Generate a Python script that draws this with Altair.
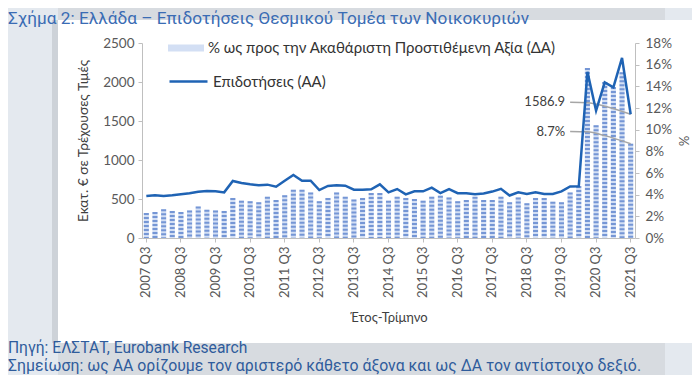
import altair as alt
import pandas as pd

# ---- data ----
quarters = []
yy, qq = 2007, 3
for _ in range(57):
    quarters.append(f"{yy} Q{qq}")
    qq += 1
    if qq > 4:
        qq = 1
        yy += 1

subsidies = [538, 547, 538, 547, 560, 573, 594, 603, 598, 585,
             731, 705, 688, 675, 684, 658, 735, 808, 735, 735,
             615, 667, 675, 671, 620, 620, 624, 688, 585, 628,
             560, 598, 598, 645, 575, 626, 575, 573, 560, 570,
             595, 630, 545, 585, 564, 585, 564, 565, 598, 660,
             662, 2130, 1632, 1996, 1932, 2308, 1586.9]

share_pct = [2.3, 2.4, 2.65, 2.5, 2.4, 2.55, 2.9, 2.6, 2.55, 2.5,
             3.7, 3.45, 3.4, 3.3, 3.8, 3.5, 3.95, 4.45, 4.45, 4.2,
             3.4, 3.7, 4.2, 3.8, 3.55, 3.7, 4.15, 4.15, 3.45, 3.8,
             3.7, 3.6, 3.45, 3.8, 3.9, 3.75, 3.4, 3.5, 3.8, 3.5,
             3.5, 3.8, 3.3, 3.75, 3.2, 3.7, 3.7, 3.35, 3.3, 4.2,
             4.8, 15.7, 10.4, 14.4, 13.95, 15.3, 8.7]

tick_quarters = [q for q in quarters if q.endswith("Q3")]
left_ticks = [0, 500, 1000, 1500, 2000, 2500]
right_ticks = [0, 2, 4, 6, 8, 10, 12, 14, 16, 18]

lead1_q = ["2019 Q4", "2020 Q2", "2020 Q4", "2021 Q3"]
lead1_v = [1740, 1735, 1690, 1586.9]
lead2_q = ["2019 Q4", "2020 Q2", "2020 Q4", "2021 Q3"]
lead2_v = [9.83, 9.8, 9.45, 8.7]

bar_label = "% ως προς την Ακαθάριστη Προστιθέμενη Αξία (ΔΑ)"
line_label = "Επιδοτήσεις (ΑΑ)"
title_text = "Σχήμα 2: Ελλάδα – Επιδοτήσεις Θεσμικού Τομέα των Νοικοκυριών"
source_text = "Πηγή: ΕΛΣΤΑΤ, Eurobank Research"
note_text = "Σημείωση: ως ΑΑ ορίζουμε τον αριστερό κάθετο άξονα και ως ΔΑ τον αντίστοιχο δεξιό."

df = pd.DataFrame({"q": quarters, "sub": subsidies, "pct": share_pct})
df["bar_series"] = bar_label
df["line_series"] = line_label
lead1 = pd.DataFrame({"q": lead1_q, "sub": lead1_v})
lead2 = pd.DataFrame({"q": lead2_q, "pct": lead2_v})

FONT = "Lato"
AX_COL = "#595959"
LINE_COL = "#1f63b4"
GRAY_BAND = "#d7dbe0"
LIGHT_BAND = "#e4e9ef"

# shared encodings (identical in every layer so the axes merge cleanly)
x_enc = alt.X("q:N", sort=quarters,
              scale=alt.Scale(domain=quarters, paddingInner=0.4, paddingOuter=0.2),
              axis=alt.Axis(values=tick_quarters, labelAngle=-90, title="Έτος-Τρίμηνο",
                            labelFont=FONT, labelFontSize=13, labelColor=AX_COL,
                            labelPadding=4, tickSize=4, tickColor="#bfbfbf",
                            domainColor="#bfbfbf", titleFont=FONT, titleFontSize=13,
                            titleFontWeight="normal", titleColor="#404040", titlePadding=14,
                            zindex=1))

y_right = alt.Y("pct:Q", scale=alt.Scale(domain=[0, 18]),
                axis=alt.Axis(orient="right", values=right_ticks,
                              labelExpr="datum.value + '%'", grid=False, title="%",
                              labelFont=FONT, labelFontSize=13.5, labelColor=AX_COL,
                              tickSize=4, tickColor="#bfbfbf", domainColor="#bfbfbf",
                              labelPadding=6, titleFont=FONT, titleFontSize=13,
                              titleFontWeight="normal", titleColor=AX_COL,
                              titlePadding=4, zindex=1))

y_left = alt.Y("sub:Q", scale=alt.Scale(domain=[0, 2500]),
               axis=alt.Axis(orient="left", values=left_ticks, format="d", grid=False,
                             title="Εκατ. € σε Τρέχουσες Τιμές", labelFont=FONT,
                             labelFontSize=13.5, labelColor=AX_COL, tickSize=4,
                             tickColor="#bfbfbf", domainColor="#bfbfbf", labelPadding=4,
                             titleFont=FONT, titleFontSize=13.8, titleFontWeight="normal",
                             titleColor="#404040", titlePadding=12, zindex=1))

one = alt.Data(values=[{}])

# ---- decorative page bands (kept clear of the axes) ----
def band(x1, x2, y1, y2, col):
    return alt.Chart(one).mark_rect(color=col).encode(
        x=alt.value(x1), x2=alt.value(x2), y=alt.value(y1), y2=alt.value(y2))

decor = [
    band(-134, -84, -35, 332, LIGHT_BAND),
    band(-90, -84, -23, 300, "#cdd2d8"),
    band(-84, 523, -35, -23, GRAY_BAND),
    band(523, 550, -35, -23, LIGHT_BAND),
    band(-84, 523, 300, 332, GRAY_BAND),
    band(523, 550, 300, 332, LIGHT_BAND),
]

def label(txt, x, y, size, col, font="Roboto"):
    return alt.Chart(one).mark_text(text=txt, align="left", baseline="middle",
                                    font=font, fontSize=size, color=col).encode(
        x=alt.value(x), y=alt.value(y))

texts = [
    label(title_text, -134, -24, 17.2, "#3a6cb4"),
    label(source_text, -134, 305, 15.6, "#2f5c9c"),
    label(note_text, -134, 323, 15.8, "#2f5c9c"),
]

# ---- right-axis group (bars) ----
bar_fill = alt.Chart(df).mark_bar().encode(
    x=x_enc,
    y=y_right,
    fill=alt.Fill("bar_series:N",
                  scale=alt.Scale(range=["#d3dff4"]),
                  legend=alt.Legend(orient="none", legendX=26, legendY=-13, title=None,
                                    symbolType="M-1,-0.2L1,-0.2L1,0.2L-1,0.2Z",
                                    symbolSize=1296, symbolStrokeWidth=0,
                                    symbolFillColor="#a9bfe8",
                                    labelFont=FONT, labelFontSize=15, labelLimit=0,
                                    labelColor="#333333", labelOffset=4)),
)
bar_hatch = alt.Chart(df).mark_rule(strokeWidth=5, strokeDash=[2, 2], color="#6a8ed1",
                                    opacity=0.9).encode(
    x=x_enc,
    y=y_right,
    y2=alt.datum(0),
)
lead2_line = alt.Chart(lead2).mark_line(color="#a6a6a6", strokeWidth=1.5,
                                        interpolate="monotone").encode(x=x_enc, y=y_right)
lead2_text = alt.Chart(lead2.iloc[[0]]).mark_text(
    text="8.7%", align="right", baseline="middle", dx=-5, font=FONT, fontSize=13,
    color="#404040").encode(x=x_enc, y=y_right)

right_group = alt.layer(bar_fill, bar_hatch, lead2_line, lead2_text)

# ---- left-axis group (line) ----
line = alt.Chart(df).mark_line(strokeWidth=2.5).encode(
    x=x_enc,
    y=y_left,
    stroke=alt.Stroke("line_series:N",
                      scale=alt.Scale(range=[LINE_COL]),
                      legend=alt.Legend(orient="none", legendX=26, legendY=18, title=None,
                                        symbolType="stroke", symbolSize=1444,
                                        symbolStrokeWidth=2.5, labelFont=FONT,
                                        labelFontSize=15, labelColor="#333333",
                                        labelOffset=4, labelLimit=0)),
)
lead1_line = alt.Chart(lead1).mark_line(color="#a6a6a6", strokeWidth=1.5,
                                        interpolate="monotone").encode(x=x_enc, y=y_left)
lead1_text = alt.Chart(lead1.iloc[[0]]).mark_text(
    text="1586.9", align="right", baseline="middle", dx=-5, font=FONT, fontSize=13,
    color="#404040").encode(x=x_enc, y=y_left)

left_group = alt.layer(lead1_line, lead1_text, line)

chart = alt.layer(*decor, *texts, right_group, left_group).resolve_scale(
    y="independent", fill="independent", stroke="independent"
).properties(
    width=493, height=195,
    autosize=alt.AutoSizeParams(type="none"),
    padding={"left": 134, "top": 35, "right": 57, "bottom": 137},
    background="#ffffff",
).configure_view(stroke=None)

chart.save("out.html", embed_options={"renderer": "svg", "actions": False})
